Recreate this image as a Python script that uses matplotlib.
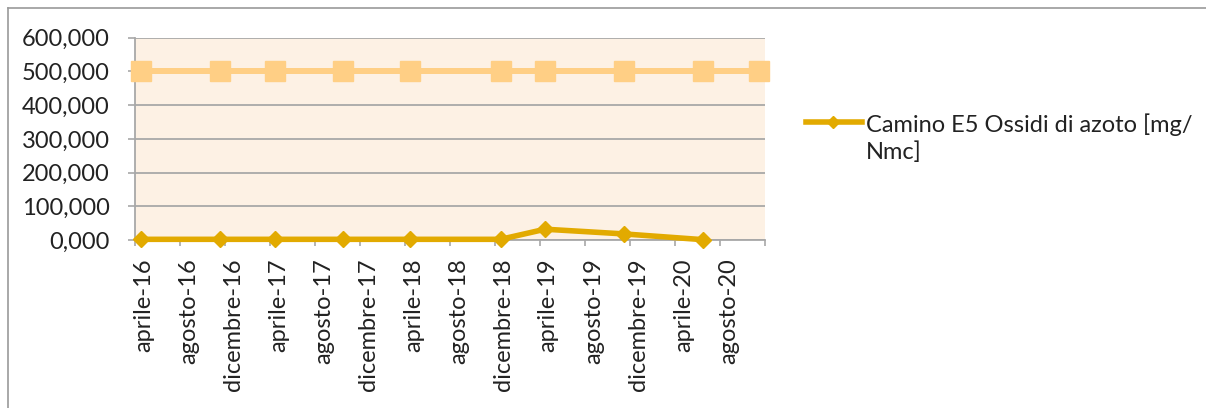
import datetime as dt

import matplotlib
matplotlib.use("Agg")
import matplotlib.pyplot as plt
import matplotlib.dates as mdates
from matplotlib.lines import Line2D
from matplotlib.ticker import FuncFormatter
from matplotlib.transforms import ScaledTranslation

# sampling months (year, month) and measured values
SAMPLE_MONTHS = [(2016, 4), (2016, 11), (2017, 4), (2017, 10), (2018, 4),
                 (2018, 12), (2019, 4), (2019, 11), (2020, 6), (2020, 11)]
NOX = [2, 2, 2, 2, 2, 2, 32, 18, 1, None]
LIMIT = [500, 500, 500, 500, 500, 500, 500, 500, 500, 500]

SERIES_LABEL = "Camino E5 Ossidi di azoto [mg/\nNmc]"
MONTHS_IT = {4: "aprile", 8: "agosto", 12: "dicembre"}
AXIS_START = (2016, 4)
AXIS_END = (2020, 12)
YTICKS = [0, 100, 200, 300, 400, 500, 600]

GOLD = "#E2AA00"
PEACH = "#FFCF85"
PANEL = "#FDF1E4"
GRID = "#A8A8A8"
INK = "#222222"
FONT = "Lato"
FS = 17

plt.rcParams["font.family"] = [FONT, "DejaVu Sans"]


def month_start(y, m):
    return dt.datetime(y, m, 1)


def month_mid(y, m):
    a = mdates.date2num(month_start(y, m))
    ny, nm = (y + 1, 1) if m == 12 else (y, m + 1)
    b = mdates.date2num(month_start(ny, nm))
    return (a + b) / 2


xs = [month_mid(y, m) for y, m in SAMPLE_MONTHS]
nox = [float("nan") if v is None else v for v in NOX]

# tick boundaries every 4 months, labels at the middle of that month
bounds, label_pos, label_txt = [], [], []
y, m = AXIS_START
while (y, m) <= AXIS_END:
    bounds.append(mdates.date2num(month_start(y, m)))
    if (y, m) < AXIS_END:
        label_pos.append(month_mid(y, m))
        label_txt.append(f"{MONTHS_IT[m]}-{y % 100:02d}")
    m += 4
    if m > 12:
        m -= 12
        y += 1

W, H = 1206, 408
fig = plt.figure(figsize=(W / 100, H / 100), dpi=100)
ax = fig.add_axes([135 / W, 1 - 240 / H, 630 / W, (240 - 37.7) / H])
ax.set_facecolor(PANEL)

ax.plot(xs, LIMIT, color=PEACH, lw=4.3, marker="s", ms=13.7,
        clip_on=False, zorder=3)
ax.plot(xs, nox, color=GOLD, lw=4.0, marker="D", ms=8.6,
        clip_on=False, zorder=4)

ax.set_xlim(bounds[0], bounds[-1])
ax.set_ylim(0, 600)
ax.set_yticks(YTICKS)
ax.yaxis.set_major_formatter(
    FuncFormatter(lambda v, _: f"{v:.3f}".replace(".", ",")))
ax.set_xticks(bounds, labels=[""] * len(bounds))
ax.set_xticks(label_pos, labels=label_txt, minor=True)

ax.grid(axis="y", color=GRID, lw=1.3, zorder=1)
ax.set_axisbelow(True)
for s in ("top", "right"):
    ax.spines[s].set_visible(False)
for s in ("left", "bottom"):
    ax.spines[s].set_color(GRID)
    ax.spines[s].set_linewidth(1.3)

ax.tick_params(axis="y", which="major", length=5, width=1.2, color=GRID,
               pad=13, labelsize=FS, labelcolor=INK)
ax.tick_params(axis="x", which="major", length=4.3, width=1.2, color=GRID)
ax.tick_params(axis="x", which="minor", length=0, pad=13,
               labelsize=FS, labelcolor=INK, labelrotation=90)
# nudge rotated month labels a few pixels right
nudge = ScaledTranslation(3 / 100, 0, fig.dpi_scale_trans)
for lbl in ax.get_xticklabels(minor=True):
    lbl.set_transform(lbl.get_transform() + nudge)

# legend key for the measured series only
fig.add_artist(Line2D([806 / W, 862 / W], [1 - 122 / H] * 2, color=GOLD,
                      lw=4.0, transform=fig.transFigure))
fig.add_artist(Line2D([833 / W], [1 - 122 / H], color=GOLD, marker="D",
                      ms=6, transform=fig.transFigure))
fig.text(866 / W, 1 - 138.5 / H, SERIES_LABEL, fontsize=FS, color=INK,
         ha="left", va="center", linespacing=1.32)

# chart frame
fig.add_artist(Line2D([8 / W, 1], [1 - 8 / H] * 2, color="#9A9A9A", lw=1.2,
                      transform=fig.transFigure))
fig.add_artist(Line2D([8 / W] * 2, [0, 1 - 8 / H], color="#9A9A9A", lw=1.2,
                      transform=fig.transFigure))

fig.savefig("out.png", dpi=100, facecolor="white")
